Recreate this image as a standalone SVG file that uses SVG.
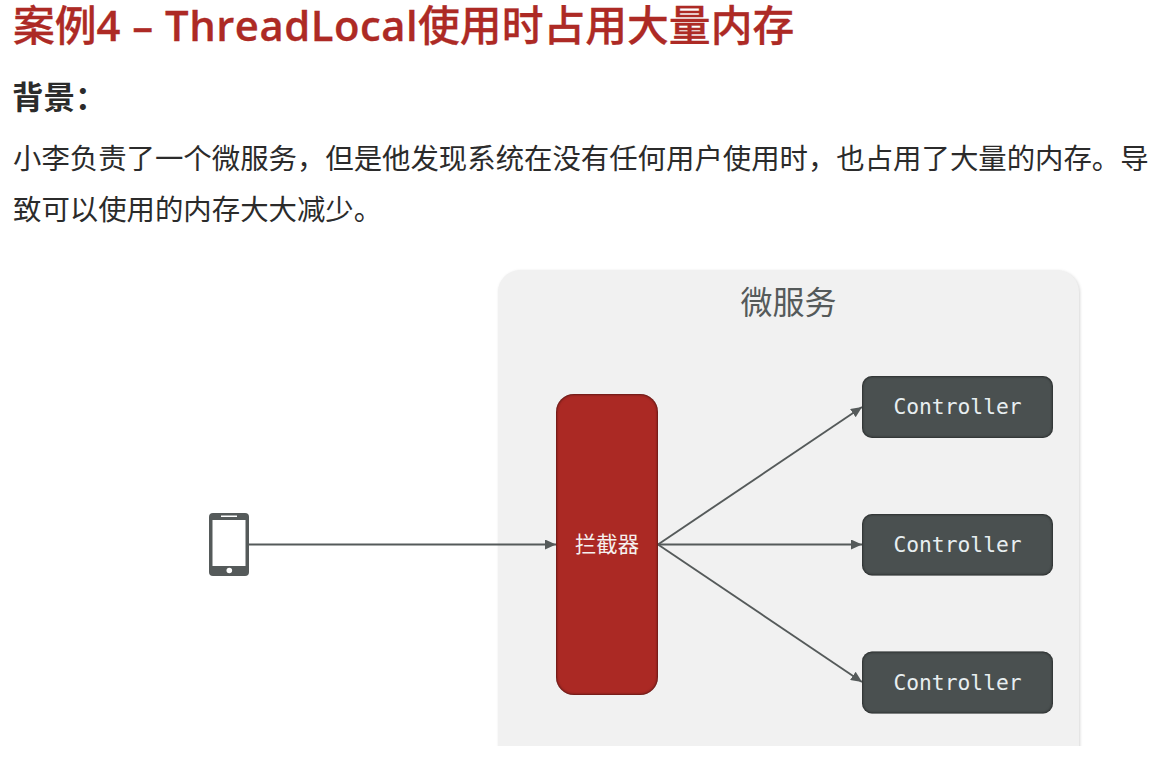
<svg xmlns="http://www.w3.org/2000/svg" width="1164" height="767" viewBox="0 0 1164 767">
<style>
.cjk{font-family:"Open Sans","Noto Sans CJK SC",sans-serif}
.body{font-family:"Noto Sans CJK SC",sans-serif;font-size:28.4px;fill:#2b2b2b}
.conn{stroke:#555a5a;stroke-width:1.9;fill:none;marker-end:url(#arrow)}
.ctl{fill:#4a5050;filter:url(#inner)}
.ctltext{font-family:"DejaVu Sans Mono",monospace;font-size:21.3px;fill:#e8eef0;text-anchor:middle}
.latin{font-weight:600;letter-spacing:0.5px}
</style>
<defs>
<marker id="arrow" markerUnits="userSpaceOnUse" markerWidth="12" markerHeight="10" refX="11" refY="5" orient="auto"><path d="M0 0L11 5L0 10Z" fill="#555a5a"/></marker>
<clipPath id="cut"><rect x="480" y="260" width="620" height="486"/></clipPath>
<filter id="inner" x="-5%" y="-5%" width="110%" height="110%" color-interpolation-filters="sRGB">
<feGaussianBlur in="SourceAlpha" stdDeviation="1.6" result="b"/>
<feComposite in="SourceAlpha" in2="b" operator="out" result="edge"/>
<feFlood flood-color="#000000" flood-opacity="0.8"/>
<feComposite in2="edge" operator="in" result="shade"/>
<feMerge><feMergeNode in="SourceGraphic"/><feMergeNode in="shade"/></feMerge>
</filter>
<filter id="soft" x="-3%" y="-3%" width="106%" height="106%" color-interpolation-filters="sRGB">
<feGaussianBlur in="SourceAlpha" stdDeviation="1.5" result="b"/>
<feOffset in="b" dx="0.500" dy="0.500" result="o"/>
<feFlood flood-color="#000000" flood-opacity="0.16"/>
<feComposite in2="o" operator="in" result="s"/>
<feMerge><feMergeNode in="s"/><feMergeNode in="SourceGraphic"/></feMerge>
</filter>
</defs>
<rect width="1164" height="767" fill="#ffffff"/>
<text class="cjk" x="13" y="41" font-size="41.8" font-weight="500" fill="#ad2a25" stroke="#ad2a25" stroke-width="0.300">案例<tspan class="latin">4 – ThreadLocal</tspan>使用时占用大量内存</text>
<text class="cjk" x="12" y="109" font-size="31.5" font-weight="700" fill="#2b2b2b">背景：</text>
<text class="body" x="13" y="169">小李负责了一个微服务，但是他发现系统在没有任何用户使用时，也占用了大量的内存。导</text>
<text class="body" x="13" y="220">致可以使用的内存大大减少。</text>
<g id="panel" clip-path="url(#cut)">
<rect x="498" y="270" width="581" height="520" rx="22" fill="#f1f1f1" filter="url(#soft)"/>
<text x="788.5" y="314" font-family="'Noto Sans CJK SC',sans-serif" font-size="32" fill="#555a5a" text-anchor="middle">微服务</text>
</g>
<g id="connectors">
<line class="conn" x1="249" y1="544.500" x2="556" y2="544.500"/>
<line class="conn" x1="658" y1="544.500" x2="862" y2="407"/>
<line class="conn" x1="658" y1="544.500" x2="862" y2="544.500"/>
<line class="conn" x1="658" y1="544.500" x2="862" y2="682"/>
</g>
<g id="phone">
<rect x="209" y="513" width="40" height="63" rx="4" fill="#555a5a"/>
<rect x="212.500" y="520" width="33" height="46" fill="#ffffff"/>
<rect x="221" y="515.500" width="16" height="1.500" fill="#ffffff"/>
<circle cx="229.300" cy="570.500" r="2.800" fill="#ffffff"/>
</g>
<g id="interceptor">
<rect x="556" y="394" width="102" height="301" rx="18" fill="#ab2924" filter="url(#inner)"/>
<text x="607" y="552" font-family="'Noto Sans CJK SC',sans-serif" font-size="21.300" fill="#f5f0ef" text-anchor="middle">拦截器</text>
</g>
<g id="controller1">
<rect class="ctl" x="862" y="376" width="191" height="62" rx="10"/>
<text class="ctltext" x="957.500" y="414">Controller</text>
</g>
<g id="controller2">
<rect class="ctl" x="862" y="514" width="191" height="61.500" rx="10"/>
<text class="ctltext" x="957.500" y="552">Controller</text>
</g>
<g id="controller3">
<rect class="ctl" x="862" y="651.500" width="191" height="62" rx="10"/>
<text class="ctltext" x="957.500" y="690">Controller</text>
</g>
</svg>
